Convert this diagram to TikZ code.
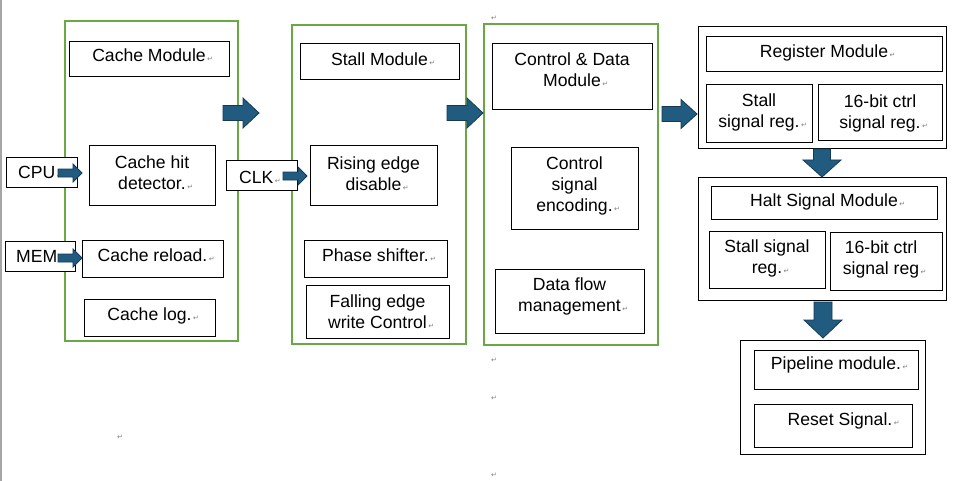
\documentclass[tikz,border=0pt]{standalone}
\usepackage{fontspec}
\setmainfont{Liberation Sans}
\newfontfamily\dvs{DejaVu Sans}
\usetikzlibrary{calc}
\definecolor{grn}{RGB}{106,168,70}
\definecolor{arrfill}{RGB}{33,92,128}
\definecolor{arrline}{RGB}{22,58,84}
\definecolor{pmgray}{RGB}{128,128,128}
\definecolor{edgegray}{RGB}{165,165,165}
\newcommand{\pmk}{\rlap{\kern1.5pt\textcolor{pmgray}{\dvs\fontsize{7}{7}\selectfont ↵}}}
% \bx[shift]{name}{x1}{y1}{x2}{y2}{text}
\newcommand{\bx}[7][yshift=-9pt]{%
  \node[box, minimum width={(#5-#3)*1pt}, minimum height={(#6-#4)*1pt}] (#2) at ({(#3+#5)/2},{(#4+#6)/2}) {};
  \node[lbl, anchor=north] (#2-t) at ([#1]#2.north) {#7};}
\newcommand{\gbx}[5]{%
  \node[gbox, minimum width={(#4-#2)*1pt}, minimum height={(#5-#3)*1pt}] (#1) at ({(#2+#4)/2},{(#3+#5)/2}) {};}
\newcommand{\obx}[5]{%
  \node[obox, minimum width={(#4-#2)*1pt}, minimum height={(#5-#3)*1pt}] (#1) at ({(#2+#4)/2},{(#3+#5)/2}) {};}
% right block arrow: x0, xh, xt, yc, shaft half, head half
\newcommand{\rarr}[6]{%
  \filldraw[blockarr] (#1,#4-#5) -- (#2,#4-#5) -- (#2,#4-#6) -- (#3,#4) -- (#2,#4+#6) -- (#2,#4+#5) -- (#1,#4+#5) -- cycle;}
% down block arrow: y0, yh, yt, xc, shaft half, head half
\newcommand{\darr}[6]{%
  \filldraw[blockarr] (#4-#5,#1) -- (#4-#5,#2) -- (#4-#6,#2) -- (#4,#3) -- (#4+#6,#2) -- (#4+#5,#2) -- (#4+#5,#1) -- cycle;}
\begin{document}
\begin{tikzpicture}[x=1pt,y=-1pt,
  box/.style={draw=black, line width=1pt, fill=white, inner sep=0pt, outer sep=0pt},
  gbox/.style={draw=grn, line width=2pt, inner sep=0pt, outer sep=0pt},
  obox/.style={draw=black, line width=1pt, fill=white, inner sep=0pt, outer sep=0pt},
  lbl/.style={inner sep=0pt, align=center, font=\fontsize{17.6}{21}\selectfont, text=black},
  pmnode/.style={inner sep=0pt, font=\dvs\fontsize{7}{7}\selectfont, text=pmgray},
  blockarr/.style={fill=arrfill, draw=arrline, line width=0.8pt, line join=miter}]
\useasboundingbox (0,0) rectangle (965,481);
\fill[white] (0,0) rectangle (965,481);
\fill[edgegray] (0,0) rectangle (2,481);

% green module frames
\gbx{g1}{65}{21}{238}{341}
\gbx{g2}{292}{25}{466}{344}
\gbx{g3}{484}{24}{658}{345}

% cache module
\bx[yshift=-7pt]{cm}{69}{42}{229}{77}{Cache Module\pmk}
\bx[yshift=-10pt]{chd}{89}{146}{215}{205}{Cache hit\\detector.\pmk}
\bx{crl}{82}{240}{223}{277}{Cache reload.\pmk}
\bx{clog}{84}{299}{215}{336}{Cache log.\pmk}

% stall module
\bx{stm}{300}{44}{459}{80}{Stall Module\pmk}
\bx[yshift=-10.5pt]{red}{310}{146}{437}{205}{Rising edge\\disable\pmk}
\bx{phs}{304}{240}{447}{277}{Phase shifter.\pmk}
\bx[yshift=-10pt]{fal}{306}{285}{449}{338}{Falling edge\\write Control\pmk}

% control & data module
\bx{cdm}{492}{44}{652}{110}{Control \& Data\\Module\pmk}
\bx{cse}{511}{148}{638}{229}{Control\\signal\\encoding.\pmk}
\bx{dfm}{495}{269}{644}{333}{Data flow\\management\pmk}

% register module
\obx{rego}{698}{27}{946}{149}
\bx[yshift=-8pt]{regt}{706}{37}{942}{72}{Register Module\pmk}
\bx{ssra}{706}{85}{812}{143}{Stall\\signal reg.\pmk}
\bx[yshift=-10pt]{cra}{818}{85}{942}{141}{16-bit ctrl\\signal reg.\pmk}

% halt signal module
\obx{halo}{698}{177}{946}{300}
\bx[yshift=-8pt]{halt}{711}{186}{937}{219}{Halt Signal Module\pmk}
\bx{ssrb}{709}{231}{825}{288}{Stall signal\\reg.\pmk}
\bx[xshift=-5pt,yshift=-9pt]{crb}{830}{232}{942}{290}{16-bit ctrl\\signal reg\pmk}

% pipeline module
\obx{pipo}{740}{340}{925}{454}
\bx[yshift=-7pt]{pipt}{754}{350}{918}{389}{Pipeline module.\pmk}
\bx[xshift=7pt,yshift=-9pt]{rst}{754}{404}{912}{447}{Reset Signal.\pmk}

% inputs
\node[box, minimum width=71pt, minimum height=29pt] (cpu) at (41.5,172.5) {};
\node[lbl, anchor=base west] (cpu-t) at (18,178.5) {CPU\pmk};
\node[box, minimum width=70pt, minimum height=30pt] (mem) at (40,256) {};
\node[lbl, anchor=base west] (mem-t) at (16,262.5) {MEM\pmk};
\node[box, minimum width=71pt, minimum height=29pt] (clk) at (261.5,175.5) {};
\node[lbl, anchor=base west] (clk-t) at (239,183.5) {CLK\pmk};

% block arrows
\rarr{223}{243}{259}{113}{7.5}{15}
\rarr{447}{467}{483}{113}{7.5}{15}
\rarr{662}{681}{697}{114}{7.5}{14.5}
\rarr{58}{73}{82}{173}{4}{9}
\rarr{58}{73}{82}{258}{4}{9}
\rarr{283}{298}{307}{176}{4}{9}
\darr{149}{160}{177}{822}{8.5}{19}
\darr{302}{320}{338}{823}{9}{19}

% paragraph marks
\node[pmnode] (pm1) at (494,18) {↵};
\node[pmnode] (pm2) at (494,360) {↵};
\node[pmnode] (pm3) at (494,398) {↵};
\node[pmnode] (pm4) at (494,475) {↵};
\node[pmnode] (pm5) at (120,437) {↵};
\end{tikzpicture}
\end{document}
